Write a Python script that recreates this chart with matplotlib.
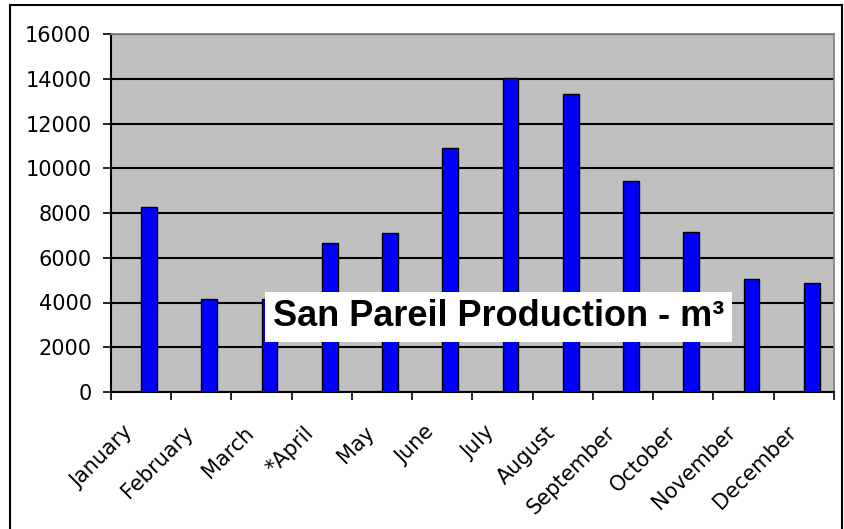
import matplotlib
matplotlib.use("Agg")
import matplotlib.pyplot as plt
import matplotlib.transforms as mtransforms
from matplotlib.patches import Rectangle
import numpy as np

months = ["January", "February", "March", "*April", "May", "June", "July",
          "August", "September", "October", "November", "December"]
production = [8250, 4150, 4150, 6650, 7120, 10900, 14050, 13300, 9450, 7170, 5050, 4850]
yticks = [0, 2000, 4000, 6000, 8000, 10000, 12000, 14000, 16000]
title = "San Pareil Production - m³"

W, H = 845, 529
fig = plt.figure(figsize=(W / 100, H / 100), dpi=100)
fig.patch.set_facecolor("white")

left, right, top, bottom = 111, 834, 34, 392
ax = fig.add_axes([left / W, 1 - bottom / H, (right - left) / W, (bottom - top) / H])
ax.set_facecolor("#C0C0C0")

x = np.arange(len(months)) + 0.5
ax.bar(x, production, width=0.26, align="edge", color="#0000FF",
       edgecolor="black", linewidth=1.0, zorder=3)

ax.set_xlim(0, len(months))
ax.set_ylim(0, 16000)

ax.set_yticks(yticks)
ax.set_yticklabels([str(v) for v in yticks], fontsize=15, family="DejaVu Sans")
ax.yaxis.grid(True, color="black", linewidth=1.5, zorder=1)
ax.set_axisbelow(True)

ax.set_xticks(np.arange(len(months) + 1))
ax.set_xticklabels([])
ax.set_xticks(x, minor=True)
ax.set_xticklabels(months, minor=True, rotation=45, ha="right", va="center",
                   rotation_mode="anchor", fontsize=15, family="DejaVu Sans")
ax.tick_params(axis="x", which="minor", length=0, pad=27)
ax.tick_params(axis="x", which="major", length=6, width=1.2, direction="out", color="black")
ax.tick_params(axis="y", length=6, width=1.2, direction="out", color="black", pad=8)

offset = mtransforms.ScaledTranslation(-11 / 100, 0, fig.dpi_scale_trans)
for lbl in ax.get_xticklabels(minor=True):
    lbl.set_transform(lbl.get_transform() + offset)

for s in ["top", "right"]:
    ax.spines[s].set_color("#808080")
    ax.spines[s].set_linewidth(1.2)
for s in ["left", "bottom"]:
    ax.spines[s].set_color("black")
    ax.spines[s].set_linewidth(1.5)

fig.text(498.5 / W, 1 - 317 / H, title, fontsize=26, fontweight="bold",
         family="Liberation Sans", ha="center", va="center", zorder=10,
         bbox=dict(boxstyle="square,pad=0.22", facecolor="white", edgecolor="none"))

frame = Rectangle((10 / W, -0.05), (842 - 10) / W, 1.05 - 5 / H,
                  transform=fig.transFigure, fill=False, edgecolor="black",
                  linewidth=1.5, zorder=20)
fig.patches.append(frame)

fig.savefig("out.png", dpi=100, facecolor="white")
